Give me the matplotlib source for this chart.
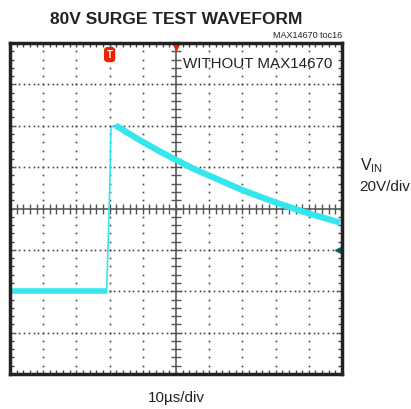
import numpy as np
import matplotlib.pyplot as plt

plt.rcParams['font.family'] = ['Liberation Sans', 'DejaVu Sans']

# trace (time in us, volts relative to screen centre)
base_t = [-50, -20.9]
base_v = [-40, -40]
rise_t = [-20.9, -20.5, -19.9, -19.6, -19.2, -18.2]
rise_v = [-40, -20, 14, 38, 39.8, 40.2]
decay_t = [-18.2, -15, -10, -5, 0, 5.7, 10, 20, 30, 40, 49.4]
decay_v = [40.2, 37.0, 32.2, 27.7, 23.5, 18.9, 15.9, 8.9, 2.9, -2.4, -6.8]

tdiv = 10   # us/div
vdiv = 20   # V/div
cyan = "#35e6ef"

fig = plt.figure(figsize=(4.11, 4.09), dpi=100)
ax = fig.add_axes([10/411, 35/409, 332/411, 331/409])
ax.set_xlim(-5*tdiv, 5*tdiv)
ax.set_ylim(-4*vdiv, 4*vdiv)

# dotted graticule
dots_x = np.arange(-5, 5.01, 1/7) * tdiv
dots_y = np.arange(-4, 4.01, 0.2) * vdiv
for gy in range(-3, 4):
    if gy == 0:
        continue
    ax.plot(dots_x, np.full(len(dots_x), gy*vdiv), ls="none", marker="s",
            ms=1.2, color="#444444", mew=0)
for gx in range(-4, 5):
    if gx == 0:
        continue
    ax.plot(np.full(len(dots_y), gx*tdiv), dots_y, ls="none", marker="s",
            ms=1.2, color="#444444", mew=0)

# centre cross with ticks
minor_x = np.arange(-5, 5.01, 0.2) * tdiv
minor_y = np.arange(-4, 4.01, 0.2) * vdiv
ax.axhline(0, color="#666666", lw=1.3)
ax.axvline(0, color="#666666", lw=1.3)
ax.plot(minor_x, np.zeros(len(minor_x)), ls="none", marker="|", ms=7,
        color="#555555", mew=1)
ax.plot(np.zeros(len(minor_y)), minor_y, ls="none", marker="_", ms=7,
        color="#555555", mew=1)

# waveform
ax.plot(base_t, base_v, color=cyan, lw=4, solid_capstyle="butt")
ax.plot(rise_t, rise_v, color=cyan, lw=1.2)
ax.plot(decay_t, decay_v, color=cyan, lw=4.5, solid_capstyle="butt")

# border ticks
ax.set_xticks(np.arange(-5, 5.01, 1) * tdiv)
ax.set_yticks(np.arange(-4, 4.01, 1) * vdiv)
ax.set_xticks(minor_x, minor=True)
ax.set_yticks(minor_y, minor=True)
ax.tick_params(which="both", direction="in", length=3, width=1, color="#444444",
               top=True, right=True, labelbottom=False, labelleft=False)
for s in ax.spines.values():
    s.set_linewidth(2.5)
    s.set_color("#222222")

# markers
ax.text(-20, 3.72*vdiv, "T", color="white", fontsize=7, fontweight="bold",
        ha="center", va="center", clip_on=False,
        bbox=dict(boxstyle="round,pad=0.2,rounding_size=0.3", fc="#ee2200", ec="#ee2200"))
ax.plot([0], [4*vdiv - 1.5], marker="v", ms=6, color="#ee2200", clip_on=False)
ax.plot([48.8], [-1*vdiv], marker="<", ms=5, color="#0a5c5c", clip_on=False)
ax.plot([48.8, 50], [-1*vdiv, -1*vdiv], color="#0a5c5c", lw=1.5)

ax.text(2.1, 3.5*vdiv, "WITHOUT MAX14670", fontsize=10.9, color="#222222",
        ha="left", va="center")

fig.text(176/411, 1 - 20/409, "80V SURGE TEST WAVEFORM", fontsize=12.5,
         fontweight="bold", ha="center", va="center", color="#222222")
fig.text(342/411, 1 - 36/409, "MAX14670 toc16", fontsize=6.5, ha="right",
         va="center", color="#222222")
fig.text(360/411, 1 - 166/409, "V$_\\mathregular{IN}$", fontsize=11.5, ha="left",
         va="center", color="#222222")
fig.text(359/411, 1 - 187/409, "20V/div", fontsize=11, ha="left",
         va="center", color="#222222")
fig.text(176/411, 1 - 398/409, "10\u00b5s/div", fontsize=11, ha="center",
         va="center", color="#222222")

fig.savefig("out.png", dpi=100)
